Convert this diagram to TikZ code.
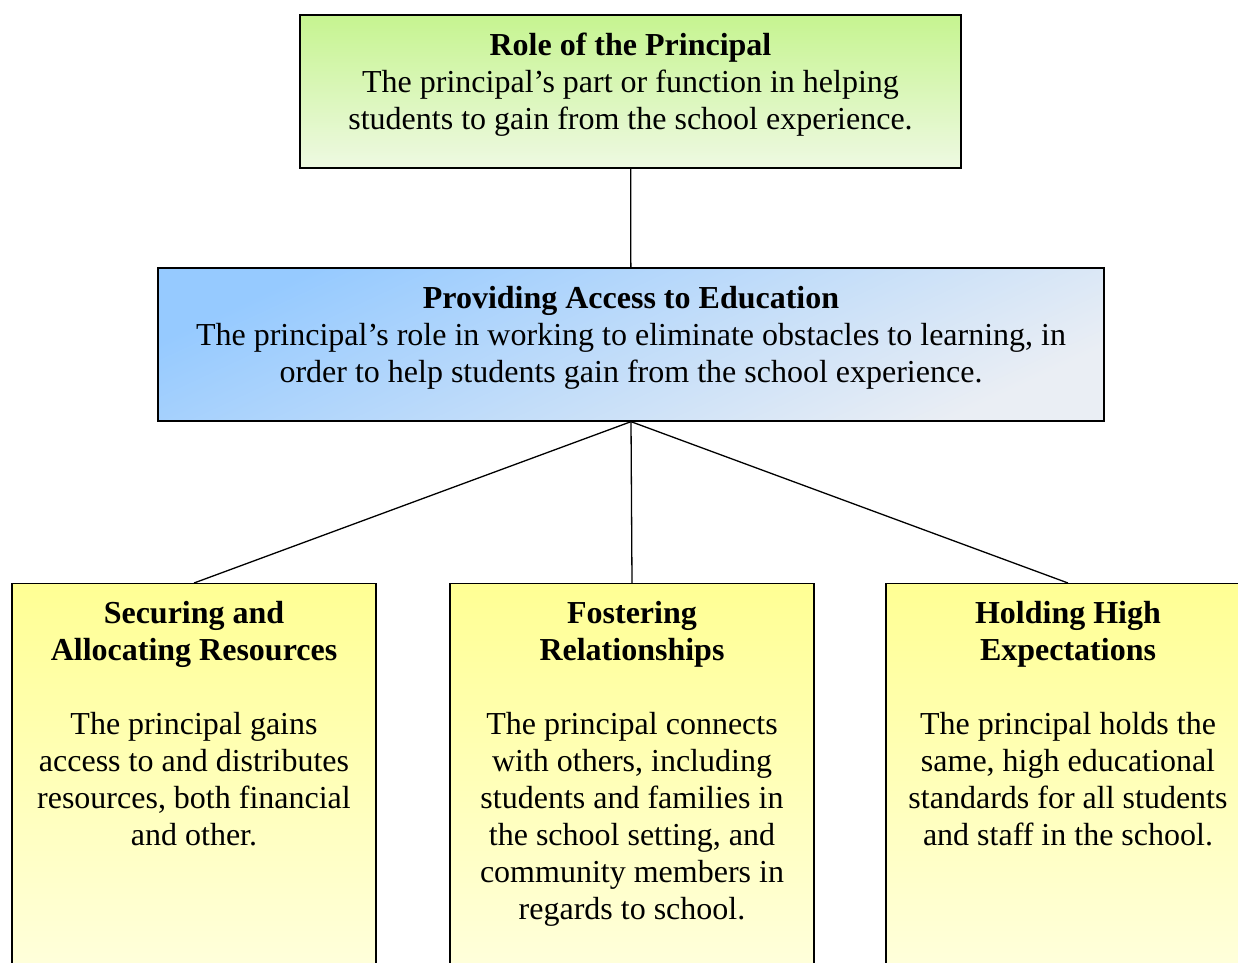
\documentclass[tikz,border=0pt]{standalone}
\usepackage{fontspec}
\setmainfont{Liberation Serif}
\usepackage{xcolor}
\usepackage{tikz}
\usetikzlibrary{positioning}

\definecolor{greentop}{RGB}{198,244,144}
\definecolor{greenbot}{RGB}{238,249,226}
\definecolor{bluetop}{RGB}{150,202,255}
\definecolor{bluemid}{RGB}{196,224,251}
\definecolor{bluebot}{RGB}{234,238,244}
\definecolor{yellowtop}{RGB}{255,255,148}
\definecolor{yellowbot}{RGB}{255,255,226}

\begin{document}
\begin{tikzpicture}[x=1pt,y=-1pt,
  every node/.style={font=\fontsize{32}{37}\selectfont, align=center, inner sep=0pt},
  box/.style={draw=black, line width=1.3pt, rectangle},
  leafbox/.style={box, anchor=north, minimum width=364, minimum height=420,
    top color=yellowtop, bottom color=yellowbot},
  connector/.style={draw=black, line width=1.3pt}]
\clip (0,0) rectangle (1238,962);

% boxes
\node[box, minimum width=661, minimum height=153,
  top color=greentop, bottom color=greenbot] (role) at (630.5,91.5) {};
\node[box, minimum width=946, minimum height=153,
  top color=bluetop, middle color=bluemid, bottom color=bluebot,
  shading angle=25] (access) at (631,344.5) {};
\node[leafbox] (res) at (194,583) {};
\node[leafbox] (rel) at (632,583) {};
\node[leafbox] (exp) at (1068,583) {};

% links
\path[connector] (role) edge (access);
\path[connector] (access.south) edge (res.north);
\path[connector] (access.south) edge (rel.north);
\path[connector] (access.south) edge (exp.north);

% texts
\node (roletext) at (630.5,85) {\textbf{Role of the Principal}\\
  The principal’s part or function in helping\\
  students to gain from the school experience.};
\node (accesstext) at (631,338) {\textbf{Providing Access to Education}\\
  The principal’s role in working to eliminate obstacles to learning, in\\
  order to help students gain from the school experience.};
\node[anchor=north] (restext) at (194,601) {\textbf{Securing and}\\
  \textbf{Allocating Resources}\\[37pt]
  The principal gains\\ access to and distributes\\
  resources, both financial\\ and other.};
\node[anchor=north] (reltext) at (632,601) {\textbf{Fostering}\\
  \textbf{Relationships}\\[37pt]
  The principal connects\\ with others, including\\
  students and families in\\ the school setting, and\\
  community members in\\ regards to school.};
\node[anchor=north] (exptext) at (1068,601) {\textbf{Holding High}\\
  \textbf{Expectations}\\[37pt]
  The principal holds the\\ same, high educational\\
  standards for all students\\ and staff in the school.};
\end{tikzpicture}
\end{document}
